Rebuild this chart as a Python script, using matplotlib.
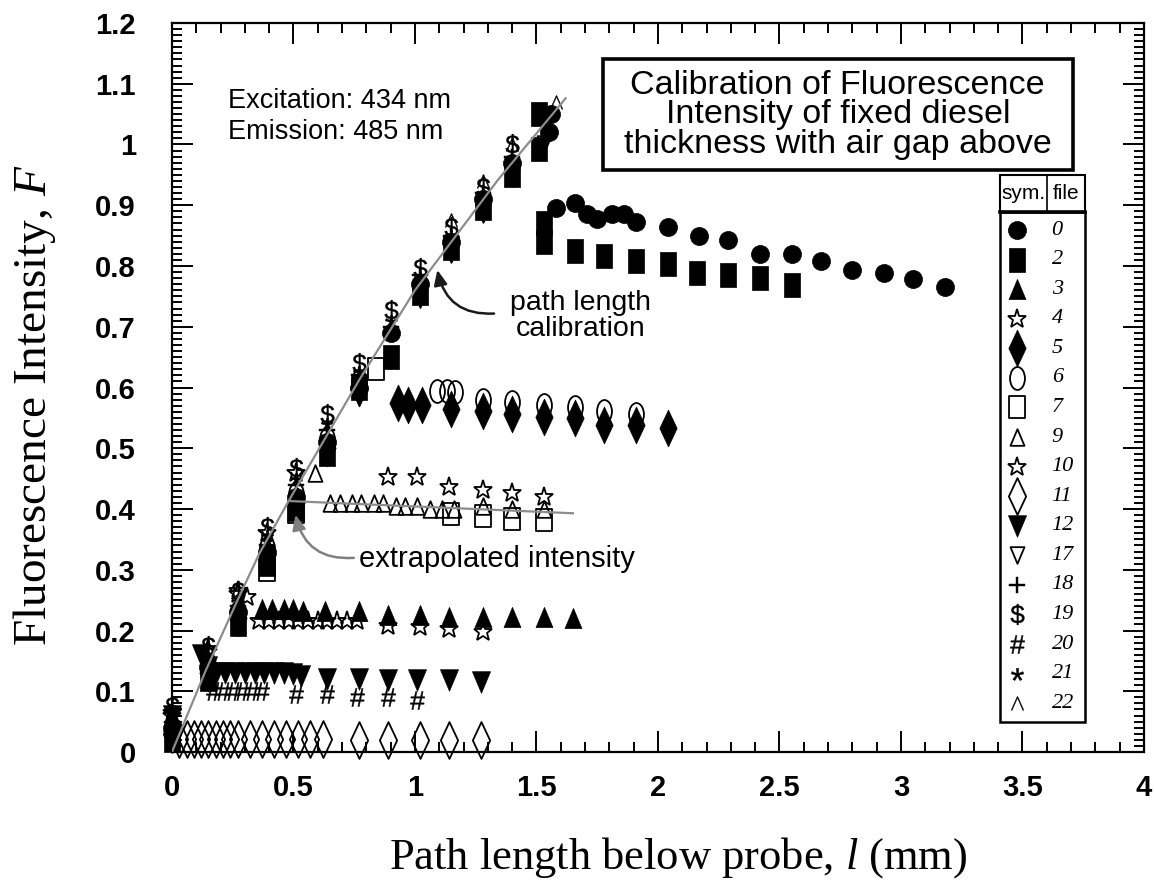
import matplotlib
matplotlib.use('Agg')
import matplotlib.pyplot as plt
from matplotlib.path import Path
from matplotlib.patches import Rectangle
from matplotlib.ticker import MultipleLocator, FuncFormatter
from matplotlib.transforms import Affine2D

plt.rcParams['font.family'] = ['Liberation Sans', 'DejaVu Sans']
plt.rcParams['mathtext.fontset'] = 'custom'
plt.rcParams['mathtext.rm'] = 'Liberation Sans'
plt.rcParams['mathtext.it'] = 'Liberation Serif:italic'
plt.rcParams['mathtext.bf'] = 'Liberation Sans:bold'

# ---- data ----
files = ['0', '2', '3', '4', '5', '6', '7', '9', '10', '11', '12', '17', '18', '19', '20', '21', '22']

x0 = [0.0, 0.15, 0.27, 0.39, 0.51, 0.64, 0.77, 0.90, 1.02, 1.15, 1.28, 1.40, 1.55, 1.56,
      1.58, 1.66, 1.71, 1.75, 1.81, 1.86, 1.91, 2.04, 2.17, 2.29, 2.42, 2.55, 2.67, 2.80, 2.93, 3.05, 3.18]
y0 = [0.04, 0.14, 0.23, 0.33, 0.42, 0.51, 0.60, 0.69, 0.77, 0.84, 0.91, 0.97, 1.02, 1.05,
      0.896, 0.903, 0.886, 0.878, 0.886, 0.886, 0.872, 0.864, 0.849, 0.842, 0.819, 0.819, 0.808, 0.794, 0.789, 0.778, 0.766]

x2 = [0.0, 0.15, 0.27, 0.39, 0.51, 0.64, 0.77, 0.90, 1.02, 1.15, 1.28, 1.40, 1.51, 1.51,
      1.53, 1.53, 1.66, 1.78, 1.91, 2.04, 2.16, 2.29, 2.42, 2.55]
y2 = [0.02, 0.12, 0.21, 0.31, 0.40, 0.49, 0.60, 0.65, 0.755, 0.83, 0.895, 0.95, 0.993, 1.05,
      0.87, 0.84, 0.824, 0.817, 0.808, 0.803, 0.788, 0.786, 0.780, 0.768]

x3 = [0.0, 0.15, 0.27, 0.37, 0.41, 0.46, 0.50, 0.54, 0.63, 0.77, 0.89, 1.02, 1.14, 1.28, 1.40, 1.53, 1.65]
y3 = [0.05, 0.15, 0.245, 0.235, 0.235, 0.235, 0.235, 0.232, 0.232, 0.232, 0.225, 0.225, 0.222, 0.222, 0.222, 0.222, 0.22]

x4 = [0.0, 0.15, 0.27, 0.31, 0.36, 0.40, 0.44, 0.48, 0.52, 0.56, 0.60, 0.64, 0.68, 0.72, 0.76, 0.89, 1.02, 1.14, 1.28]
y4 = [0.06, 0.165, 0.26, 0.255, 0.215, 0.215, 0.215, 0.215, 0.215, 0.215, 0.215, 0.215, 0.215, 0.215, 0.215,
      0.207, 0.205, 0.203, 0.198]

x5 = [0.0, 0.15, 0.27, 0.39, 0.51, 0.64, 0.77, 0.93, 0.97, 1.03, 1.15, 1.28, 1.40, 1.53, 1.66, 1.78, 1.91, 2.04]
y5 = [0.035, 0.13, 0.22, 0.325, 0.41, 0.50, 0.60, 0.574, 0.571, 0.571, 0.565, 0.562, 0.557, 0.551, 0.549, 0.538, 0.538, 0.533]

x6 = [0.0, 0.15, 0.27, 0.39, 0.51, 0.64, 0.77, 1.09, 1.13, 1.165, 1.28, 1.40, 1.53, 1.66, 1.78, 1.91]
y6 = [0.04, 0.14, 0.23, 0.335, 0.425, 0.515, 0.61, 0.595, 0.595, 0.592, 0.58, 0.576, 0.572, 0.568, 0.562, 0.557]

x7 = [0.39, 0.51, 0.84, 1.15, 1.28, 1.40, 1.53]
y7 = [0.30, 0.395, 0.63, 0.392, 0.388, 0.383, 0.382]

x9 = [0.59, 0.65, 0.69, 0.74, 0.78, 0.83, 0.87, 0.92, 0.96, 1.01, 1.06, 1.11, 1.16, 1.28, 1.40, 1.53]
y9 = [0.46, 0.41, 0.41, 0.41, 0.41, 0.41, 0.41, 0.405, 0.405, 0.405, 0.40, 0.40, 0.40, 0.405, 0.40, 0.40]

x10 = [0.0, 0.15, 0.27, 0.39, 0.51, 0.89, 1.01, 1.14, 1.28, 1.40, 1.53]
y10 = [0.065, 0.17, 0.265, 0.36, 0.46, 0.452, 0.452, 0.436, 0.431, 0.426, 0.42]

x11 = [0.0, 0.03, 0.06, 0.09, 0.12, 0.15, 0.18, 0.21, 0.24, 0.27, 0.32, 0.37, 0.42, 0.47, 0.52, 0.57, 0.62,
       0.77, 0.89, 1.02, 1.14, 1.27]
y11 = [0.03, 0.022, 0.022, 0.022, 0.022, 0.022, 0.022, 0.022, 0.022, 0.022, 0.022, 0.022, 0.022, 0.022, 0.022,
       0.022, 0.022, 0.02, 0.02, 0.02, 0.02, 0.02]

x12 = [0.0, 0.12, 0.15, 0.18, 0.22, 0.26, 0.30, 0.34, 0.38, 0.42, 0.46, 0.50, 0.53, 0.64, 0.77, 0.89, 1.01, 1.14, 1.27]
y12 = [0.06, 0.16, 0.14, 0.13, 0.13, 0.13, 0.13, 0.13, 0.13, 0.13, 0.13, 0.128, 0.125, 0.12, 0.12, 0.118, 0.118, 0.118, 0.115]

x17 = [0.0, 0.15, 0.27, 0.39, 0.51, 0.64, 0.77, 0.90, 1.02, 1.15, 1.28, 1.40, 1.53]
y17 = [0.02, 0.12, 0.215, 0.31, 0.395, 0.485, 0.585, 0.645, 0.745, 0.82, 0.885, 0.945, 1.0]

x18 = [0.0, 0.15, 0.27, 0.39, 0.51, 0.64, 0.77, 0.90, 1.02, 1.15, 1.28, 1.40, 1.53]
y18 = [0.05, 0.15, 0.24, 0.34, 0.44, 0.53, 0.62, 0.70, 0.785, 0.85, 0.92, 0.98, 1.04]

x19 = [0.0, 0.15, 0.27, 0.39, 0.51, 0.64, 0.77, 0.90, 1.02, 1.15, 1.28, 1.40]
y19 = [0.075, 0.175, 0.265, 0.37, 0.467, 0.557, 0.641, 0.727, 0.796, 0.865, 0.93, 1.0]

x20 = [0.0, 0.17, 0.21, 0.25, 0.29, 0.33, 0.37, 0.51, 0.64, 0.76, 0.89, 1.01]
y20 = [0.03, 0.10, 0.10, 0.10, 0.10, 0.10, 0.10, 0.095, 0.095, 0.09, 0.09, 0.085]

x21 = [0.39, 0.51, 0.64, 0.77, 0.90, 1.02, 1.15, 1.28]
y21 = [0.355, 0.45, 0.54, 0.625, 0.71, 0.78, 0.85, 0.915]

x22 = [1.15, 1.28, 1.40, 1.58]
y22 = [0.875, 0.94, 1.0, 1.07]

# gray calibration curve and extrapolated plateau line
calib_x = [0.0, 0.14, 0.27, 0.36, 0.49, 0.77, 1.0, 1.34, 1.62]
calib_y = [0.0, 0.135, 0.25, 0.327, 0.42, 0.612, 0.76, 0.941, 1.076]
extrap_x = [0.49, 1.65]
extrap_y = [0.413, 0.393]

series = [(x0, y0), (x2, y2), (x3, y3), (x4, y4), (x5, y5), (x6, y6), (x7, y7), (x9, y9), (x10, y10),
          (x11, y11), (x12, y12), (x17, y17), (x18, y18), (x19, y19), (x20, y20), (x21, y21), (x22, y22)]

# ---- marker shapes ----
rect_tall = Path([(-0.35, -0.5), (0.35, -0.5), (0.35, 0.5), (-0.35, 0.5), (-0.35, -0.5)], closed=True)
oval = Affine2D().scale(0.65, 1.0).transform_path(Path.unit_circle())
diamond = Path([(0, 0.5), (0.235, 0), (0, -0.5), (-0.235, 0), (0, 0.5)], closed=True)
tri_up = Path([(0, 0.5), (0.42, -0.5), (-0.42, -0.5), (0, 0.5)], closed=True)
tri_dn = Path([(0, -0.5), (0.42, 0.5), (-0.42, 0.5), (0, -0.5)], closed=True)

# (marker, size, filled)
styles = [('o', 13, True), (rect_tall, 17, True), (tri_up, 14.5, True), ('*', 14, False),
          (diamond, 26.5, True), (oval, 16.5, False), (rect_tall, 16.5, False), (tri_up, 12, False),
          ('*', 14, False), (diamond, 26.5, False), (tri_dn, 15.5, True), (tri_dn, 12, False),
          ('$+$', 12, True), (r'$\$$', 15, True), (r'$\#$', 13, True), ('$*$', 9, True), (r'$\wedge$', 10, True)]


def mstyle(st):
    m, s, filled = st
    kw = dict(marker=m, markersize=s, linestyle='none', color='black')
    if isinstance(m, str) and m.startswith('$'):
        kw.update(markeredgewidth=0.3)
    elif filled:
        kw.update(markerfacecolor='black', markeredgecolor='black', markeredgewidth=0.5)
    else:
        kw.update(markerfacecolor='none', markeredgecolor='black', markeredgewidth=1.3)
    return kw


fig = plt.figure(figsize=(11.54, 8.84), dpi=100)
ax = fig.add_axes([0.149, 0.1493, 0.8423, 0.8247])

ax.plot(calib_x, calib_y, color='#8c8c8c', lw=1.6, zorder=3)
ax.plot(extrap_x, extrap_y, color='#8c8c8c', lw=1.6, zorder=3)

for (xs, ys), st in zip(series, styles):
    ax.plot(xs, ys, clip_on=False, zorder=2, **mstyle(st))

ax.set_xlim(0, 4)
ax.set_ylim(0, 1.2)
ax.xaxis.set_major_locator(MultipleLocator(0.5))
ax.xaxis.set_minor_locator(MultipleLocator(0.1))
ax.yaxis.set_major_locator(MultipleLocator(0.1))
ax.yaxis.set_minor_locator(MultipleLocator(0.01))
fmt = FuncFormatter(lambda v, p: f'{v:g}')
ax.xaxis.set_major_formatter(fmt)
ax.yaxis.set_major_formatter(fmt)
ax.tick_params(which='both', direction='in', top=True, right=True, width=1.4, labelsize=21)
ax.tick_params(which='major', length=15)
ax.tick_params(which='minor', length=7)
ax.tick_params(axis='x', pad=16)
ax.tick_params(axis='y', pad=26)
plt.setp(ax.get_xticklabels() + ax.get_yticklabels(), fontweight='bold')
for sp in ax.spines.values():
    sp.set_linewidth(1.6)

fig.text(0.588, 0.030, r'Path length below probe, $l$ (mm)', family='Liberation Serif',
         fontsize=32, ha='center', va='center')
fig.text(0.030, 0.541, r'Fluorescence Intensity, $F$', family='Liberation Serif',
         fontsize=34, ha='center', va='center', rotation=90)

ax.text(0.23, 1.072, 'Excitation: 434 nm', fontsize=19.5, va='center')
ax.text(0.23, 1.021, 'Emission: 485 nm', fontsize=19.5, va='center')

# title box
ax.add_patch(Rectangle((0.443, 0.798), 0.484, 0.152, transform=ax.transAxes, facecolor='white',
                       edgecolor='black', lw=2.6, zorder=5))
ax.text(0.685, 0.874, 'Calibration of Fluorescence\nIntensity of fixed diesel\nthickness with air gap above',
        transform=ax.transAxes, ha='center', va='center', fontsize=24.5, linespacing=0.95, zorder=6)

# annotations
ax.annotate('', xy=(1.09, 0.798), xytext=(1.337, 0.722),
            arrowprops=dict(arrowstyle='-|>,head_length=0.9,head_width=0.4',
                            connectionstyle='arc3,rad=-0.45', color='#1a1a1a', lw=1.8))
ax.text(1.68, 0.717, 'path length\ncalibration', ha='center', va='center', fontsize=20.5, linespacing=1.0)
ax.annotate('', xy=(0.506, 0.395), xytext=(0.76, 0.32),
            arrowprops=dict(arrowstyle='-|>,head_length=0.9,head_width=0.4',
                            connectionstyle='arc3,rad=-0.45', color='#808080', lw=1.8))
ax.text(0.77, 0.318, 'extrapolated intensity', ha='left', va='center', fontsize=21)

# symbol table
tx0, tx1, tdiv = 0.852, 0.939, 0.900
ax.add_patch(Rectangle((tx0, 0.741), tx1 - tx0, 0.05, transform=ax.transAxes, facecolor='white',
                       edgecolor='black', lw=1.5, zorder=5, clip_on=False))
ax.plot([tdiv, tdiv], [0.741, 0.791], transform=ax.transAxes, color='black', lw=1.2, zorder=6)
ax.add_patch(Rectangle((tx0, 0.041), tx1 - tx0, 0.70, transform=ax.transAxes, facecolor='white',
                       edgecolor='black', lw=1.8, zorder=5, clip_on=False))
ax.plot([tx0, tx1], [0.741, 0.741], transform=ax.transAxes, color='black', lw=2.6, zorder=6)
ax.text((tx0 + tdiv) / 2, 0.766, 'sym.', transform=ax.transAxes, ha='center', va='center', fontsize=15, zorder=6)
ax.text((tdiv + tx1) / 2, 0.766, 'file', transform=ax.transAxes, ha='center', va='center', fontsize=15, zorder=6)
row0, row_step = 0.716, (0.716 - 0.067) / 16
for i, (name, st) in enumerate(zip(files, styles)):
    ry = row0 - i * row_step
    ax.plot([0.869], [ry], transform=ax.transAxes, clip_on=False, zorder=7, **mstyle(st))
    ax.text(0.905, ry, name, transform=ax.transAxes, ha='left', va='center', fontsize=16,
            family='Liberation Serif', style='italic', zorder=7)

fig.savefig('out.png', dpi=100)
